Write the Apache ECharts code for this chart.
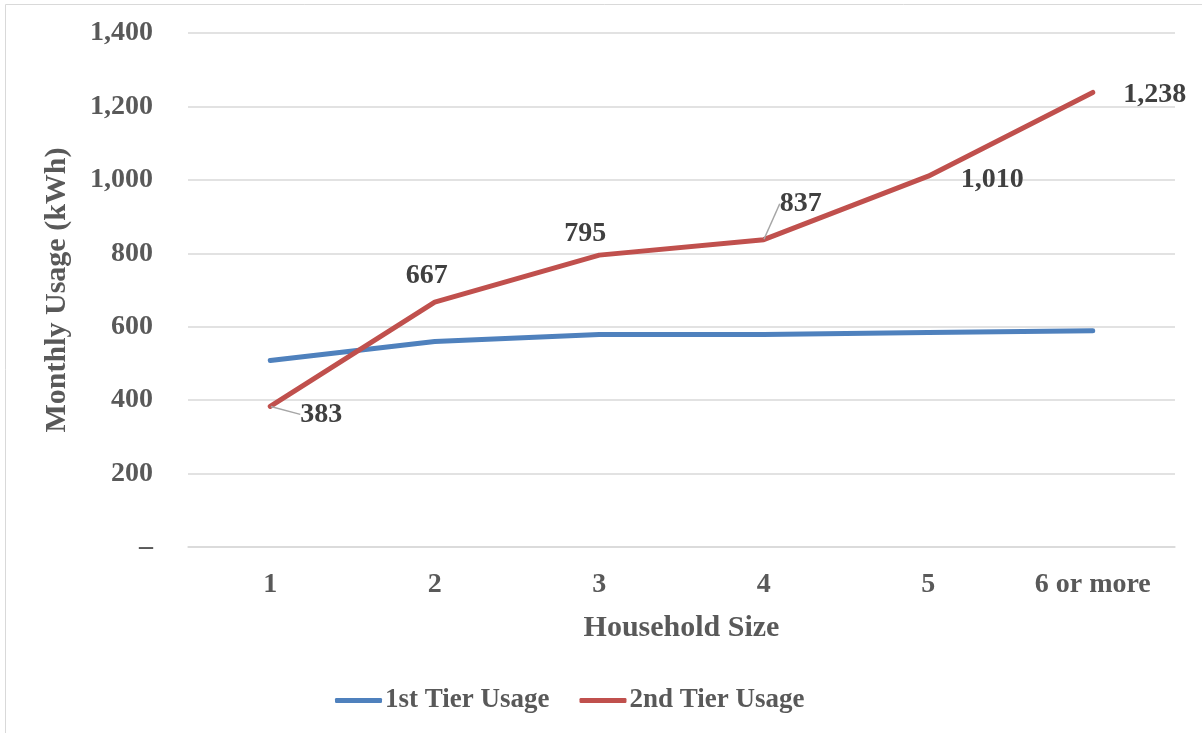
<!DOCTYPE html>
<html>
<head>
<meta charset="utf-8">
<script src="https://cdn.jsdelivr.net/npm/echarts@6/dist/echarts.min.js"></script>
<style>html,body{margin:0;padding:0;background:#fff}#c{width:1202px;height:733px}</style>
</head>
<body>
<div id="c"></div>
<script>
var categories = ['1', '2', '3', '4', '5', '6 or more'];
var tier1 = [508, 560, 579, 579, 584, 589];
var tier2 = [383, 667, 795, 837, 1010, 1238];
var yTicks = [0, 200, 400, 600, 800, 1000, 1200, 1400];
// label offsets (dx, dy) for the 2nd tier labels, and which get a leader line
var labelShift = [[51, 8], [-8, -26], [-14, -21], [37, -36], [64, 4], [62, 2]];
var labelLeader = [true, false, false, true, false, false];

var FONT = '"Liberation Serif", "Times New Roman", serif';
var chart = echarts.init(document.getElementById('c'));
function fmt(v) { return v === 0 ? '–' : v.toLocaleString('en-US'); }
chart.setOption({
  animation: false,
  textStyle: { fontFamily: FONT },
  graphic: [{
    type: 'rect', shape: { x: 5.5, y: 4.5, width: 1300, height: 800 },
    style: { fill: 'none', stroke: '#d9d9d9', lineWidth: 1 }, silent: true
  }],
  grid: { left: 188, right: 27, top: 33, bottom: 186, containLabel: false },
  legend: {
    top: 682, left: 330,
    itemWidth: 47, itemHeight: 5, itemGap: 30,
    textStyle: { fontFamily: FONT, fontSize: 27, fontWeight: 'bold', color: '#595959', padding: [0, 0, 0, -2] },
    icon: 'roundRect',
    data: ['1st Tier Usage', '2nd Tier Usage']
  },
  xAxis: {
    type: 'category', data: categories, boundaryGap: true,
    name: 'Household Size', nameLocation: 'middle', nameGap: 66,
    nameTextStyle: { fontFamily: FONT, fontSize: 30, fontWeight: 'bold', color: '#595959' },
    axisLine: { lineStyle: { color: '#d9d9d9', width: 1.5 } },
    axisTick: { show: false },
    axisLabel: { fontFamily: FONT, fontSize: 28, fontWeight: 'bold', color: '#595959', margin: 24 }
  },
  yAxis: {
    type: 'value', min: yTicks[0], max: yTicks[yTicks.length - 1], interval: 200,
    name: 'Monthly Usage (kWh)', nameLocation: 'middle', nameGap: 116,
    nameTextStyle: { fontFamily: FONT, fontSize: 30, fontWeight: 'bold', color: '#595959' },
    axisLine: { show: false }, axisTick: { show: false },
    splitLine: { lineStyle: { color: '#d9d9d9', width: 1.5 } },
    axisLabel: { fontFamily: FONT, fontSize: 28, fontWeight: 'bold', color: '#595959', margin: 35, formatter: fmt }
  },
  series: [{
    name: '1st Tier Usage', type: 'line', data: tier1,
    symbol: 'none', lineStyle: { color: '#4F81BD', width: 5, cap: 'round' },
    itemStyle: { color: '#4F81BD' }
  }, {
    name: '2nd Tier Usage', type: 'line',
    data: tier2.map(function (v, i) {
      return { value: v, labelLine: { show: labelLeader[i] } };
    }),
    symbol: 'circle', symbolSize: 1, showSymbol: true,
    lineStyle: { color: '#C0504D', width: 5, cap: 'round' },
    itemStyle: { color: '#C0504D' },
    label: {
      show: true, position: 'inside',
      fontFamily: FONT, fontSize: 28, fontWeight: 'bold', color: '#404040',
      formatter: function (p) { return fmt(p.value); }
    },
    labelLine: { show: false, lineStyle: { color: '#a6a6a6', width: 1.5 } },
    labelLayout: function (p) {
      var s = labelShift[p.dataIndex];
      return { dx: s[0], dy: s[1] };
    }
  }]
});
</script>
</body>
</html>
